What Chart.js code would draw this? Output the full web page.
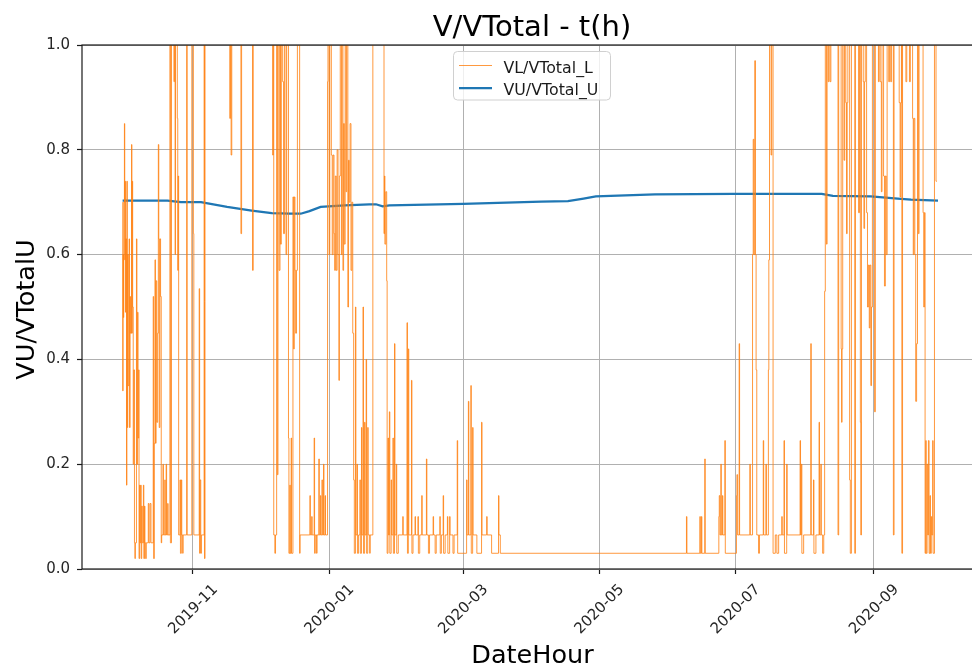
<!DOCTYPE html>
<html>
<head>
<meta charset="utf-8">
<title>V/VTotal - t(h)</title>
<script src="https://cdn.jsdelivr.net/npm/chart.js@4.4.0/dist/chart.umd.min.js"></script>
<style>
  html, body { margin: 0; padding: 0; background: #fff; }
  #wrap { width: 972px; height: 669px; overflow: hidden; position: relative; }
  canvas { display: block; }
</style>
</head>
<body>
<div id="wrap"><canvas id="chart" width="1010" height="669"></canvas></div>
<script>
// x values are days since 2019-09-30 00:00 (hourly series)
const xMin = -17.7;
const xMax = 385.5;

const xTickDays = [32, 93, 153, 214, 275, 337];
const xTickLabels = ['2019-11', '2020-01', '2020-03', '2020-05', '2020-07', '2020-09'];
const yTicks = [0, 0.2, 0.4, 0.6, 0.8, 1.0];

// VL/VTotal_L : change points (day, value); values above 1.0 are cut by the frame
const lowerDay = [
  0.5, 0.55, 0.7, 0.85, 1.0, 1.3, 1.45, 1.6, 1.75, 1.9, 2.25, 2.4, 2.6, 2.8, 3.0, 3.4, 3.6, 3.85, 4.0, 4.5,
  4.65, 4.8, 5.0, 5.25, 5.5, 5.8, 6.0, 6.2, 6.7, 6.9, 7.2, 7.4, 7.7, 7.85, 8.1, 8.3, 8.6, 8.8, 9.05, 9.3,
  9.8, 10.0, 10.3, 10.5, 10.8, 11.1, 12.0, 12.3, 12.8, 13.2, 14.2, 14.4, 14.7, 15.0, 15.2, 15.5, 15.8, 16.2, 16.5, 16.7,
  16.9, 17.2, 17.5, 17.8, 18.0, 18.6, 18.75, 19.4, 19.55, 20.0, 20.2, 20.7, 20.85,
  21.7, 21.9, 22.4, 23.5, 23.7, 24.0, 24.2, 25.0, 25.2, 25.4, 25.6, 26.2, 26.4, 26.8, 27.0, 27.4, 27.6, 29.2, 29.4, 31.5,
  32.2, 32.4, 34.8, 35.0, 35.2, 35.5, 35.8, 37.0, 37.2, 37.4,
  48.5, 48.8, 49.1, 49.4, 53.5, 53.8, 58.7, 59.0, 67.7, 68.0, 68.2, 68.7, 69.0, 69.5, 69.8, 70.1, 70.6, 71.0, 71.2, 71.6,
  72.2, 72.6, 73.0, 73.7, 74.0, 74.8, 75.0, 75.4, 75.6, 76.0, 76.2, 76.8, 77.1, 77.4, 77.7, 78.0, 78.4, 78.8, 79.8, 80.0,
  84.4, 84.6, 85.2, 85.4, 86.3, 86.5, 86.8, 87.4, 87.6, 88.4, 88.6, 89.1, 89.3, 89.8, 90.0, 90.5, 90.7, 91.2, 91.4,
  92.3, 92.5, 93.0, 93.3, 94.0, 94.4, 94.8, 95.2, 95.5, 95.8, 96.2, 96.6, 97.0, 97.4, 97.6, 98.0, 98.5, 98.8, 99.2, 99.5,
  99.8, 100.2, 100.6, 100.9, 101.4, 101.7, 102.0, 102.4, 102.8, 103.2, 103.6, 104.0, 104.3, 104.8, 105.0, 105.5, 105.7, 106.2, 106.8, 107.0,
  107.5, 107.7, 108.2, 108.4, 108.9, 109.1, 109.6, 109.8, 110.3, 110.5, 111.2, 111.4, 112.6, 117.6, 117.8, 118.0, 118.4, 118.8, 119.0, 119.4,
  119.6, 120.0, 120.2, 120.8, 121.0, 121.6, 121.8, 122.3, 122.5, 123.1, 123.3, 124.0, 126.0, 126.2, 127.9, 128.1, 128.5, 128.7, 129.9, 130.1,
  130.6, 131.5, 131.7, 132.8, 133.0, 133.6, 134.5, 134.7, 136.6, 136.8, 137.5, 138.0, 139.6, 139.8, 140.5, 141.0, 142.6, 142.8, 143.3, 144.1,
  144.3, 145.0, 146.0, 146.2, 147.0, 147.2, 148.5, 149.0, 150.4, 150.6, 154.6, 154.8, 155.4, 155.6, 156.5, 156.7, 157.3, 157.5, 159.2, 161.3,
  161.5, 163.6, 163.8, 165.8, 168.9, 169.1, 169.7,
  253.1, 253.3, 259.1, 259.3, 259.8, 260.0, 261.3, 261.5, 267.6, 267.8, 268.1, 268.5, 268.7, 269.2, 269.4, 270.3, 270.5, 275.5, 275.7, 276.0,
  276.7, 276.9, 281.5, 281.7, 282.7, 283.0, 283.3, 283.7, 284.0, 284.3, 284.6, 285.4, 285.8, 287.5, 287.7, 288.7, 288.9, 289.8, 290.0, 290.3,
  291.0, 291.3, 291.9, 292.9, 293.6, 294.4, 295.8, 296.0, 296.8, 297.0, 298.0, 298.2, 304.0, 304.2, 304.6, 304.8, 305.6, 308.8, 309.0, 310.0,
  310.2, 311.1, 312.5, 312.7, 313.3, 313.5, 314.1, 314.6,
  315.0, 315.3, 315.8, 316.1, 316.6, 316.9, 317.4, 317.8, 321.0, 321.3, 322.4, 322.6, 322.8, 323.1, 323.7, 324.0, 324.5, 324.8, 325.1, 325.4,
  326.2, 326.5, 327.0, 328.5, 328.8, 330.2, 330.6, 331.0, 331.2, 331.5, 332.3, 332.6, 332.9, 333.2, 333.8, 334.2, 334.6, 335.0, 335.3, 335.7,
  336.0, 336.4, 337.4, 337.7, 339.1, 339.4, 339.9, 340.4, 340.7, 341.4, 341.8, 342.2, 342.6, 343.0, 343.7, 344.1, 344.6, 345.0, 345.8, 346.1,
  348.4, 348.8, 349.1, 349.4, 349.6, 349.9, 351.4, 351.8, 353.0, 353.4, 354.4, 354.7, 355.0, 355.4, 355.8, 356.2, 356.6, 357.0, 357.3, 359.1,
  359.4, 359.7, 360.0, 360.3, 360.5, 360.9, 361.2, 361.5, 361.8, 362.2, 362.4, 362.8, 363.0, 363.4, 363.6, 364.2, 364.9, 365.3
];
const lowerVal = [
  0.70, 0.34, 0.60, 0.48, 0.70, 0.85, 0.59, 0.74, 0.49, 0.63, 0.16, 0.74, 0.27, 0.60, 0.35, 0.63, 0.27, 0.52, 0.45, 0.81,
  0.45, 0.74, 0.50, 0.20, 0.38, 0.05, 0.02, 0.05, 0.63, 0.20, 0.49, 0.25, 0.38, 0.02, 0.16, 0.05, 0.16, 0.02, 0.12, 0.05,
  0.16, 0.02, 0.12, 0.05, 0.02, 0.05, 0.125, 0.05, 0.125, 0.05, 0.52, 0.02, 0.24, 0.59, 0.24, 0.55, 0.28, 0.45, 0.81, 0.63,
  0.27, 0.63, 0.52, 0.05, 0.065, 0.20, 0.065, 0.17, 0.065, 0.20, 0.065, 0.125, 0.065,
  1.05, 0.05, 1.05, 0.93, 1.05, 0.60, 1.05, 0.86, 0.57, 0.75, 0.065, 0.17, 0.03, 0.17, 0.065, 0.03, 0.065, 1.05, 0.065, 1.05,
  0.64, 0.065, 0.535, 0.03, 0.17, 0.03, 0.065, 1.05, 0.02, 1.05,
  0.86, 1.05, 0.79, 1.05, 0.64, 1.05, 0.57, 1.05, 0.79, 1.05, 0.065, 0.03, 0.065, 1.05, 0.18, 1.05, 0.57, 1.05, 0.62, 1.05,
  0.93, 0.64, 1.05, 0.60, 1.05, 0.25, 0.03, 0.16, 0.03, 0.25, 0.03, 0.71, 0.42, 0.71, 0.57, 0.45, 0.57, 1.05, 0.03, 0.065,
  0.14, 0.065, 0.10, 0.065, 0.25, 0.03, 0.065, 0.03, 0.065, 0.21, 0.065, 0.14, 0.065, 0.17, 0.065, 0.20, 0.065, 0.14, 0.065,
  0.93, 1.05, 0.60, 1.05, 0.79, 0.60, 0.79, 0.64, 0.57, 0.75, 0.57, 0.80, 0.60, 0.36, 0.75, 1.05, 0.60, 1.05, 0.57, 0.85,
  0.62, 1.05, 0.72, 1.05, 0.50, 0.78, 0.70, 0.85, 0.57, 0.70, 0.45, 0.17, 0.03, 0.50, 0.065, 0.20, 0.03, 0.065, 0.17, 0.03,
  0.27, 0.065, 0.50, 0.03, 0.28, 0.065, 0.40, 0.03, 0.27, 0.065, 0.03, 0.065, 1.05, 0.64, 0.75, 0.62, 0.72, 0.55, 0.03, 0.25,
  0.065, 0.30, 0.03, 0.17, 0.065, 0.25, 0.03, 0.43, 0.065, 0.20, 0.03, 0.065, 0.10, 0.065, 0.47, 0.03, 0.42, 0.065, 0.36, 0.03,
  0.065, 0.10, 0.065, 0.10, 0.03, 0.065, 0.14, 0.065, 0.21, 0.065, 0.03, 0.065, 0.10, 0.065, 0.03, 0.065, 0.10, 0.03, 0.065, 0.14,
  0.03, 0.065, 0.10, 0.03, 0.10, 0.065, 0.03, 0.065, 0.245, 0.03, 0.17, 0.065, 0.32, 0.065, 0.35, 0.03, 0.27, 0.065, 0.03, 0.28,
  0.065, 0.10, 0.065, 0.03, 0.14, 0.065, 0.03,
  0.10, 0.03, 0.10, 0.03, 0.10, 0.03, 0.21, 0.03, 0.10, 0.14, 0.065, 0.20, 0.065, 0.14, 0.065, 0.245, 0.03, 0.14, 0.18, 0.065,
  0.43, 0.065, 0.20, 0.065, 0.60, 0.82, 0.60, 0.97, 0.60, 0.38, 0.065, 0.03, 0.065, 0.245, 0.065, 0.20, 0.065, 0.38, 0.59, 1.05,
  0.79, 1.05, 0.03, 0.065, 0.03, 0.065, 0.10, 0.065, 0.245, 0.03, 0.20, 0.065, 0.245, 0.065, 0.20, 0.03, 0.065, 0.43, 0.065, 0.17,
  0.03, 0.065, 0.28, 0.065, 0.20, 0.065, 0.03, 0.065,
  0.53, 1.05, 0.62, 1.05, 0.93, 1.05, 0.93, 1.05, 0.065, 1.05, 0.42, 0.28, 0.42, 1.05, 0.78, 1.05, 0.89, 0.64, 0.89, 1.05,
  0.17, 0.03, 1.05, 0.03, 1.05, 0.68, 1.05, 0.28, 0.065, 1.05, 0.93, 0.65, 0.93, 1.05, 0.68, 0.50, 0.58, 0.46, 0.58, 0.35,
  0.50, 1.05, 0.30, 1.05, 0.93, 1.05, 0.93, 0.72, 1.05, 0.75, 0.54, 0.75, 0.60, 1.05, 0.93, 1.05, 0.93, 1.05, 0.065, 1.05,
  0.89, 0.71, 0.89, 1.05, 0.03, 1.05, 0.93, 1.05, 0.93, 1.05, 0.86, 0.60, 0.86, 0.60, 0.32, 0.43, 1.05, 0.64, 1.05, 0.68,
  0.50, 0.68, 0.03, 0.245, 0.03, 0.20, 0.065, 0.245, 0.03, 0.14, 0.03, 0.10, 0.065, 0.245, 0.03, 1.05, 0.74, 0.74
];

// VU/VTotal_U : smooth series
const upperDay = [0.5, 20.6, 26.6, 35.6, 47.3, 58.3, 67.3, 75.3, 80.3, 84.2, 89.2, 100, 111, 114, 117, 120, 153, 188, 200, 207, 212.5, 239, 274, 313.7, 318.7, 335.7, 347.7, 353.7, 365.8];
const upperVal = [0.703, 0.703, 0.700, 0.700, 0.691, 0.684, 0.679, 0.678, 0.678, 0.683, 0.691, 0.694, 0.696, 0.696, 0.692, 0.694, 0.697, 0.701, 0.702, 0.707, 0.711, 0.715, 0.716, 0.716, 0.712, 0.711, 0.707, 0.705, 0.703];

const FONT = '"DejaVu Sans", sans-serif';

// Title, axis labels, rotated x tick labels, frame and legend
const decorations = {
  id: 'decorations',
  afterDatasetsDraw(chart) {
    const { ctx, chartArea: a, scales } = chart;
    ctx.save();

    // spines
    ctx.strokeStyle = '#1a1a1a';
    ctx.lineWidth = 1.2;
    ctx.strokeRect(a.left, a.top, a.right - a.left, a.bottom - a.top);

    // x tick labels, rotated 45 degrees and centred under the tick
    ctx.fillStyle = '#262626';
    ctx.font = '15px ' + FONT;
    ctx.textAlign = 'center';
    ctx.textBaseline = 'middle';
    xTickDays.forEach((d, i) => {
      const px = scales.x.getPixelForValue(d);
      ctx.save();
      ctx.translate(px + 0.5, 609.5);
      ctx.rotate(-Math.PI / 4);
      ctx.fillText(xTickLabels[i], 0, 0);
      ctx.restore();
    });

    // title and axis titles
    ctx.fillStyle = '#000';
    ctx.textBaseline = 'alphabetic';
    ctx.font = '29px ' + FONT;
    ctx.fillText('V/VTotal - t(h)', 532, 35.5);
    ctx.font = '25.5px ' + FONT;
    ctx.fillText('DateHour', 532.5, 663);
    ctx.save();
    ctx.translate(33.5, 309.5);
    ctx.rotate(-Math.PI / 2);
    ctx.fillText('VU/VTotalU', 0, 0);
    ctx.restore();

    // legend
    const lx = 453.5, ly = 51.5, lw = 157, lh = 48.5, r = 4;
    ctx.beginPath();
    ctx.moveTo(lx + r, ly);
    ctx.arcTo(lx + lw, ly, lx + lw, ly + lh, r);
    ctx.arcTo(lx + lw, ly + lh, lx, ly + lh, r);
    ctx.arcTo(lx, ly + lh, lx, ly, r);
    ctx.arcTo(lx, ly, lx + lw, ly, r);
    ctx.closePath();
    ctx.fillStyle = 'rgba(255,255,255,0.8)';
    ctx.fill();
    ctx.strokeStyle = '#d0d0d0';
    ctx.lineWidth = 1;
    ctx.stroke();

    ctx.strokeStyle = '#ff7f0e';
    ctx.lineWidth = 0.8;
    ctx.beginPath();
    ctx.moveTo(459, 65.5);
    ctx.lineTo(492, 65.5);
    ctx.stroke();
    ctx.strokeStyle = '#1f77b4';
    ctx.lineWidth = 2.25;
    ctx.beginPath();
    ctx.moveTo(459, 88);
    ctx.lineTo(492, 88);
    ctx.stroke();

    ctx.fillStyle = '#1a1a1a';
    ctx.font = '15.8px ' + FONT;
    ctx.textAlign = 'left';
    ctx.fillText('VL/VTotal_L', 503.5, 73);
    ctx.fillText('VU/VTotal_U', 503.5, 95);

    ctx.restore();
  }
};

const gridStyle = {
  color: '#b0b0b0',
  lineWidth: 1,
  drawTicks: true,
  tickLength: 5,
  tickColor: '#1a1a1a',
  tickWidth: 1.2
};

new Chart(document.getElementById('chart'), {
  type: 'line',
  data: {
    datasets: [
      {
        label: 'VL/VTotal_L',
        data: lowerDay.map((d, i) => ({ x: d, y: lowerVal[i] })),
        borderColor: '#ff7f0e',
        borderWidth: 0.8,
        stepped: true,
        pointRadius: 0,
        fill: false
      },
      {
        label: 'VU/VTotal_U',
        data: upperDay.map((d, i) => ({ x: d, y: upperVal[i] })),
        borderColor: '#1f77b4',
        borderWidth: 2.25,
        tension: 0,
        pointRadius: 0,
        fill: false
      }
    ]
  },
  options: {
    responsive: false,
    devicePixelRatio: 1,
    animation: false,
    events: [],
    layout: { padding: { left: 0, top: 45, right: 28, bottom: 0 } },
    plugins: {
      legend: { display: false },
      title: { display: false },
      tooltip: { enabled: false }
    },
    scales: {
      x: {
        type: 'linear',
        min: xMin,
        max: xMax,
        grid: gridStyle,
        border: { display: false },
        ticks: { display: false },
        afterBuildTicks: s => { s.ticks = xTickDays.map(v => ({ value: v })); },
        afterFit: s => { s.height = 100; }
      },
      y: {
        type: 'linear',
        min: 0,
        max: 1,
        grid: gridStyle,
        border: { display: false },
        ticks: {
          padding: 7,
          color: '#262626',
          font: { family: FONT, size: 15 },
          callback: v => v.toFixed(1)
        },
        afterBuildTicks: s => { s.ticks = yTicks.map(v => ({ value: v })); },
        afterFit: s => { s.width = 82; }
      }
    }
  },
  plugins: [decorations]
});
</script>
</body>
</html>
